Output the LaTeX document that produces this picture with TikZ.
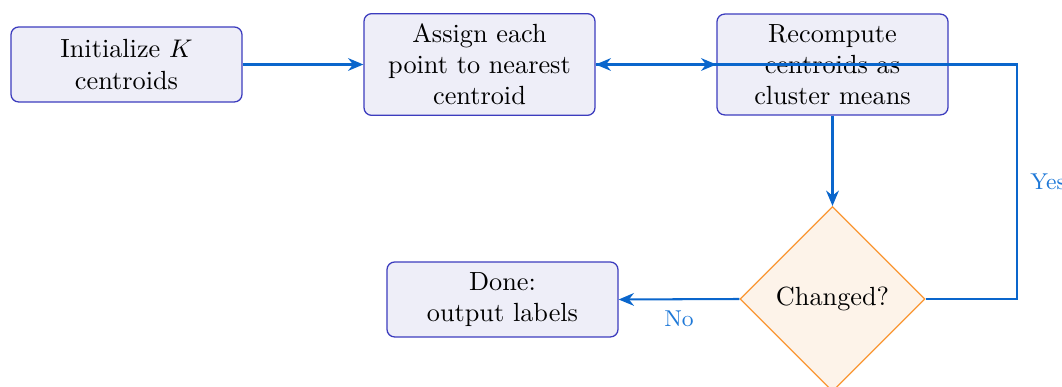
\documentclass[tikz,border=0pt]{standalone}
\usetikzlibrary{shapes.geometric,arrows.meta}
\definecolor{boxfill}{RGB}{238,238,248}
\definecolor{boxdraw}{RGB}{60,60,190}
\definecolor{arrcol}{RGB}{10,102,204}
\definecolor{labcol}{RGB}{30,120,215}
\definecolor{decfill}{RGB}{253,243,233}
\definecolor{decdraw}{RGB}{250,150,50}
\tikzset{
  procbox/.style={draw=boxdraw, fill=boxfill, rounded corners=3pt, line width=0.5pt,
    minimum width=90.6pt, minimum height=29.4pt, align=center, inner sep=4pt,
    font=\fontsize{10.3}{12.2}\selectfont},
  decbox/.style={draw=decdraw, fill=decfill, shape=diamond, line width=0.5pt,
    minimum width=72.5pt, minimum height=72.5pt, inner sep=0pt, align=center,
    font=\fontsize{10.3}{12.2}\selectfont},
  arr/.style={draw=arrcol, line width=0.8pt, -{Stealth[length=6pt,width=5pt]}},
  lab/.style={text=labcol, font=\small}
}
\begin{document}
\begin{tikzpicture}[x=0.3922pt,y=-0.3922pt]
\useasboundingbox (0,0) rectangle (1062,387);
\clip (0,0) rectangle (1062,387);
\node[procbox] (init) at (126.5,64.5) {Initialize $K$\\centroids};
\node[procbox] (assign) at (479.5,64.5) {Assign each\\point to nearest\\centroid};
\node[procbox] (recomp) at (832.5,64.5) {Recompute\\centroids as\\cluster means};
\node[decbox] (chg) at (832.5,299) {Changed?};
\node[procbox] (done) at (502.5,299.5) {Done:\\output labels};
\coordinate (yesc) at (1017,64.5);
\draw[arr] (init.east) -- (assign.west);
\draw[arr] (assign.east) -- (recomp.west);
\draw[arr] (recomp.south) -- (chg.north);
\draw[arr] (chg.west) -- node[lab, below=1pt, pos=0.5] {No} (done.east);
\draw[arr] (chg.east) -| node[lab, right=1.5pt, pos=0.75] {Yes} (yesc) -- (assign.east);
\end{tikzpicture}
\end{document}
